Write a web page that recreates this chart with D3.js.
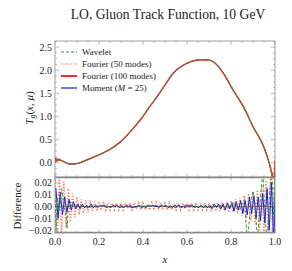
<!DOCTYPE html>
<html><head><meta charset="utf-8">
<script src="https://cdn.jsdelivr.net/npm/d3@7"></script>
<style>
html,body{margin:0;padding:0;background:#fff;}
svg{display:block;font-family:"Liberation Serif","DejaVu Serif",serif;}
</style></head>
<body><svg id="c" width="292" height="271"></svg>
<script>
// ---- data ----
const titleText = "LO, Gluon Track Function, 10 GeV";
const legendLabels = ["Wavelet", "Fourier (50 modes)", "Fourier (100 modes)", "Moment (M = 25)"];
const xTicks = [0, 0.2, 0.4, 0.6, 0.8, 1.0];
const mainYTicks = [0, 0.5, 1.0, 1.5, 2.0, 2.5];
const diffYTicks = [-0.02, -0.01, 0, 0.01, 0.02];

// main curve T_g(x, mu)
const tgX = [0,0.02,0.04,0.07,0.10,0.12,0.16,0.20,0.25,0.30,0.34,0.39,0.43,0.47,0.50,0.54,0.58,0.62,0.66,0.70,0.74,0.77,0.81,0.86,0.90,0.95,0.975,0.99,1.0];
const tgY = [0.05,0.06,0.02,-0.03,-0.02,0.01,0.09,0.17,0.29,0.46,0.66,0.94,1.21,1.47,1.68,1.95,2.10,2.19,2.23,2.22,2.10,1.90,1.57,1.18,0.78,0.33,-0.03,-0.33,-0.5];
// Fourier (100 modes) edge oscillations
const f100LeftX = [0, 0.004, 0.008, 0.014, 0.02];
const f100LeftY = [0.0, 0.1, 0.03, 0.08, 0.06];
const f100RightX = [0.985, 0.993, 0.997, 1.0];
const f100RightY = [-0.2, -0.36, -0.3, 0.05];

// difference panel
const diffStep = 0.01;
const fourier50Diff = [0.03,-0.03,0.027,-0.025,0.021,-0.018,0.015,-0.013,0.011,-0.009,
 0.008,-0.007,0.006,-0.006,0.005,-0.005,0.005,-0.004,0.004,-0.004,
 0.004,-0.003,0.004,-0.003,0.003,-0.003,0.003,-0.003,0.003,-0.003,
 0.003,-0.003,0.003,-0.002,0.003,-0.003,0.003,-0.002,0.003,-0.003,
 0.003,-0.003,0.002,-0.003,0.003,-0.003,0.003,-0.002,0.003,-0.003,
 0.003,-0.003,0.003,-0.003,0.002,-0.003,0.003,-0.003,0.003,-0.002,
 0.003,-0.003,0.003,-0.003,0.003,-0.003,0.002,-0.003,0.003,-0.003,
 0.003,-0.003,0.003,-0.004,0.003,-0.004,0.004,-0.004,0.004,-0.005,
 0.005,-0.005,0.006,-0.006,0.007,-0.008,0.009,-0.01,0.011,-0.012,
 0.012,-0.015,0.014,-0.02,0.018,-0.025,0.022,-0.03,0.03,-0.03,
 0.03];
const momentDiff = [0.015,-0.01,0.012,-0.007,0.008,-0.005,0.006,-0.003,0.004,-0.002,
 0.002,-0.002,0.002,-0.001,0.001,-0.001,0.002,-0.001,0.001,-0.001,
 0.001,0.0,0.001,-0.001,0.0,-0.001,0.001,0.0,0.001,-0.001,
 0.0,-0.001,0.001,0.0,0.001,-0.001,0.0,0.0,0.001,-0.001,
 0.0,-0.001,0.001,0.0,0.001,0.0,0.0,-0.001,0.001,0.0,
 0.001,-0.001,0.0,-0.001,0.001,0.0,0.001,-0.001,0.0,-0.001,
 0.001,0.0,0.001,-0.001,0.0,-0.001,0.001,-0.001,0.001,-0.001,
 0.001,-0.002,0.002,-0.001,0.002,-0.002,0.002,-0.003,0.003,-0.002,
 0.003,-0.004,0.004,-0.003,0.005,-0.006,0.005,-0.007,0.008,-0.006,
 0.009,-0.01,0.008,-0.012,0.011,-0.014,0.015,-0.02,0.02,-0.03,
 0.03];
const waveletX = [0,0.005,0.01,0.02,0.03,0.04,0.05,0.055,0.06,0.07,0.08,0.1,0.15,0.2,0.25,0.3,0.35,0.4,0.45,0.5,0.55,0.6,0.65,0.7,0.75,0.78,0.8,0.81,0.82,0.84,0.85,0.86,0.875,0.89,0.9,0.91,0.92,0.935,0.945,0.955,0.965,0.975,0.985,0.995,1.0];
const waveletDiff = [0.01,-0.02,0.008,-0.004,0.015,0.002,-0.008,-0.018,-0.002,0.004,0.0,0.001,-0.001,0.001,0.0,0.001,-0.001,0.0,0.001,0.0,-0.001,0.001,0.0,-0.001,0.001,-0.002,0.001,0.004,-0.001,-0.003,0.002,0.005,-0.03,0.004,0.013,0.002,-0.03,0.01,0.03,-0.01,-0.03,0.01,0.03,-0.01,0.03];

// ---- styles ----
const cGreen = "#2e9a2e", cRed = "#f02a2a", cRedDot = "#ff5a44", cBlue = "#1a1ae0";
const frameCol = "#a0a0a0", textCol = "#222";

const svg = d3.select("#c");
const L = 55, R = 275, T1 = 41, B1 = 177, T2 = 177, B2 = 233;
const x = d3.scaleLinear().domain([0, 1]).range([L, R]);
const y1 = d3.scaleLinear().domain([-0.31, 2.634]).range([B1, T1]);
const y2 = d3.scaleLinear().domain([-0.0224, 0.0248]).range([B2, T2]);

const defs = svg.append("defs");
defs.append("clipPath").attr("id","cp1").append("rect").attr("x",L).attr("y",T1).attr("width",R-L).attr("height",B1-T1);
defs.append("clipPath").attr("id","cp2").append("rect").attr("x",L).attr("y",T2).attr("width",R-L).attr("height",B2-T2);

// title
svg.append("text").attr("x", 168).attr("y", 19).attr("text-anchor","middle")
  .attr("font-size", 13.6).attr("fill", textCol).text(titleText);

// frames with ticks
function frame(ys, top, bottom, yMajor, yMinorStep, yFmt, showX) {
  const g = svg.append("g");
  g.append("rect").attr("x",L).attr("y",top).attr("width",R-L).attr("height",bottom-top)
    .attr("fill","none").attr("stroke",frameCol).attr("stroke-width",1);
  const xMinor = d3.range(0, 1.0001, 0.05);
  xMinor.forEach(v => {
    const major = Math.abs(v*5 - Math.round(v*5)) < 1e-6;
    const len = major ? 4 : 2;
    g.append("line").attr("x1",x(v)).attr("x2",x(v)).attr("y1",bottom).attr("y2",bottom-len).attr("stroke",frameCol).attr("stroke-width",0.7);
    g.append("line").attr("x1",x(v)).attr("x2",x(v)).attr("y1",top).attr("y2",top+len).attr("stroke",frameCol).attr("stroke-width",0.7);
  });
  const d = ys.domain();
  const yMinor = d3.range(Math.ceil(d[0]/yMinorStep)*yMinorStep, d[1], yMinorStep);
  yMinor.forEach(v => {
    const major = yMajor.some(m => Math.abs(m - v) < yMinorStep*1e-3);
    const len = major ? 4 : 2;
    g.append("line").attr("x1",L).attr("x2",L+len).attr("y1",ys(v)).attr("y2",ys(v)).attr("stroke",frameCol).attr("stroke-width",0.7);
    g.append("line").attr("x1",R).attr("x2",R-len).attr("y1",ys(v)).attr("y2",ys(v)).attr("stroke",frameCol).attr("stroke-width",0.7);
  });
  yMajor.forEach(v => {
    g.append("text").attr("x", L-3).attr("y", ys(v)+3.5).attr("text-anchor","end")
      .attr("font-size",10).attr("fill",textCol).text(yFmt(v));
  });
  if (showX) {
    xTicks.forEach(v => {
      g.append("text").attr("x", x(v)).attr("y", bottom+12).attr("text-anchor","middle")
        .attr("font-size",10).attr("fill",textCol).text(v.toFixed(1));
    });
  }
}
frame(y1, T1, B1, mainYTicks, 0.125, v => v.toFixed(1), false);
frame(y2, T2, B2, diffYTicks, 0.005, v => (v < 0 ? "\u2212" : "") + Math.abs(v).toFixed(2), true);

// axis titles
const yl = svg.append("text").attr("transform","translate(33,108) rotate(-90)").attr("text-anchor","middle")
  .attr("font-size",11).attr("fill",textCol);
yl.append("tspan").attr("font-style","italic").text("T");
yl.append("tspan").attr("font-style","italic").attr("font-size",8).attr("dy",2).text("g");
yl.append("tspan").attr("dy",-2).text("(");
yl.append("tspan").attr("font-style","italic").text("x");
yl.append("tspan").text(", ");
yl.append("tspan").attr("font-style","italic").text("\u03bc");
yl.append("tspan").text(")");
svg.append("text").attr("transform","translate(21,206) rotate(-90)").attr("text-anchor","middle")
  .attr("font-size",11).attr("fill",textCol).text("Difference");
svg.append("text").attr("x",165).attr("y",263).attr("text-anchor","middle")
  .attr("font-size",11).attr("font-style","italic").attr("fill",textCol).text("x");

// main panel curves
const line1 = d3.line().x(d => x(d[0])).y(d => y1(d[1])).curve(d3.curveMonotoneX);
const g1 = svg.append("g").attr("clip-path","url(#cp1)");
const mainPts = tgX.map((v,i) => [v, tgY[i]]);
g1.append("path").attr("d", line1(mainPts)).attr("fill","none").attr("stroke",cBlue).attr("stroke-width",1);
g1.append("path").attr("d", line1(mainPts)).attr("fill","none").attr("stroke",cRed).attr("stroke-width",1.5);
g1.append("path").attr("d", line1(f100LeftX.map((v,i)=>[v,f100LeftY[i]]))).attr("fill","none").attr("stroke",cRed).attr("stroke-width",1.4);
g1.append("path").attr("d", line1(f100RightX.map((v,i)=>[v,f100RightY[i]]))).attr("fill","none").attr("stroke",cRed).attr("stroke-width",1.4);
g1.append("path").attr("d", line1(mainPts)).attr("fill","none").attr("stroke",cRedDot).attr("stroke-width",1).attr("stroke-dasharray","1,1.5");
g1.append("path").attr("d", line1(mainPts)).attr("fill","none").attr("stroke",cGreen).attr("stroke-width",1).attr("stroke-dasharray","3,2");

// diff panel
const line2 = d3.line().x(d => x(d[0])).y(d => y2(d[1]));
const g2 = svg.append("g").attr("clip-path","url(#cp2)");
const gridX = fourier50Diff.map((_, i) => i * diffStep);
g2.append("path").attr("d", line2(gridX.map((v,i)=>[v,fourier50Diff[i]]))).attr("fill","none")
  .attr("stroke",cRedDot).attr("stroke-width",1.5).attr("stroke-dasharray","1.2,1.8").attr("opacity",0.8);
g2.append("path").attr("d", line2(gridX.map((v,i)=>[v+0.004,momentDiff[i]]))).attr("fill","none")
  .attr("stroke",cBlue).attr("stroke-width",1);
g2.append("path").attr("d", line2(waveletX.map((v,i)=>[v,waveletDiff[i]]))).attr("fill","none")
  .attr("stroke",cGreen).attr("stroke-width",1).attr("stroke-dasharray","3,2");
g2.append("line").attr("x1",L).attr("x2",R).attr("y1",y2(0)).attr("y2",y2(0)).attr("stroke","#333").attr("stroke-width",0.8).attr("opacity",0.6);
g2.append("line").attr("x1",L).attr("x2",R).attr("y1",T2+0.5).attr("y2",T2+0.5).attr("stroke","#888").attr("stroke-width",1.5);
g2.append("line").attr("x1",L).attr("x2",R).attr("y1",B2-0.5).attr("y2",B2-0.5).attr("stroke","#888").attr("stroke-width",1.5);

// legend
const legY = [52, 64, 76, 88];
const leg = svg.append("g");
const styles = [
  {c:cGreen, w:1, dash:"3,2"},
  {c:cRedDot, w:1, dash:"1,1.5"},
  {c:cRed, w:2, dash:null},
  {c:cBlue, w:1.2, dash:null}
];
legendLabels.forEach((lab, i) => {
  const s = styles[i];
  leg.append("line").attr("x1",61).attr("x2",77).attr("y1",legY[i]).attr("y2",legY[i])
    .attr("stroke",s.c).attr("stroke-width",s.w).attr("stroke-dasharray",s.dash);
  const t = leg.append("text").attr("x",82).attr("y",legY[i]+3).attr("font-size",9).attr("fill",textCol);
  if (i === 3) {
    t.append("tspan").text("Moment (");
    t.append("tspan").attr("font-style","italic").text("M");
    t.append("tspan").text(" = 25)");
  } else t.text(lab);
});
</script></body></html>
